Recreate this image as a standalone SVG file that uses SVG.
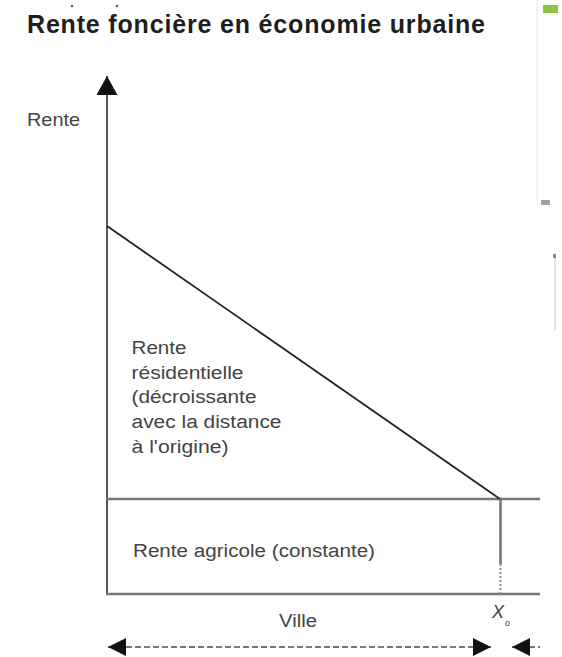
<svg xmlns="http://www.w3.org/2000/svg" width="562" height="657" viewBox="0 0 562 657">
  <style>
    .title { font-family: "Liberation Sans", Arial, sans-serif; font-weight: bold; font-size: 25px; fill: #1e1e1e; }
    .lbl { font-family: "Liberation Sans", Arial, sans-serif; font-size: 18px; fill: #444; }
    .xo { font-family: "Liberation Sans", Arial, sans-serif; font-style: italic; fill: #444; }
    .axis { stroke: #555; stroke-width: 2; fill: none; }
    .hline { stroke: #777; stroke-width: 2.6; fill: none; }
    .diag { stroke: #222; stroke-width: 1.8; fill: none; }
    .dash { stroke: #777; stroke-width: 2; stroke-dasharray: 6 3; fill: none; }
    .dot { stroke: #999; stroke-width: 2.4; stroke-dasharray: 2 2; fill: none; }
  </style>
  <defs>
    <marker id="arrY" markerUnits="userSpaceOnUse" markerWidth="20" markerHeight="21" viewBox="0 0 20 21" refX="19" refY="10.5" orient="auto">
      <path d="M0,0 L19,10.5 L0,21 Z" fill="#111"/>
    </marker>
    <marker id="arr" markerUnits="userSpaceOnUse" markerWidth="18" markerHeight="18" viewBox="0 0 18 18" refX="18" refY="9" orient="auto-start-reverse">
      <path d="M0,0 L18,9 L0,18 Z" fill="#111"/>
    </marker>
  </defs>
  <rect width="562" height="657" fill="#fff"/>

  <!-- screenshot remnants -->
  <g id="artifacts">
    <circle cx="72" cy="6" r="1.2" fill="#555"/>
    <circle cx="117" cy="6" r="1.2" fill="#555"/>
    <line x1="537" y1="0" x2="537" y2="200" stroke="#e8e8e8" stroke-width="1"/>
    <rect x="543" y="5" width="15" height="8" fill="#8cc63e"/>
    <rect x="541" y="200" width="9" height="5" fill="#9aa3ad"/>
    <line x1="555" y1="253" x2="555" y2="330" stroke="#c4c4c4" stroke-width="1"/>
    <rect x="553" y="254" width="3" height="4" fill="#888"/>
  </g>

  <g id="title">
    <text class="title" x="27" y="33" textLength="458" lengthAdjust="spacing">Rente foncière en économie urbaine</text>
  </g>

  <g id="connectors">
    <line class="axis" x1="107" y1="595" x2="107" y2="76" marker-end="url(#arrY)"/>
    <line class="hline" x1="106" y1="594" x2="540" y2="594"/>
    <line class="hline" x1="106" y1="499" x2="540" y2="499"/>
    <line class="diag" x1="107" y1="226" x2="500" y2="499"/>
    <line class="hline" x1="500.5" y1="499" x2="500.5" y2="564"/>
    <line class="dot" x1="500.5" y1="564" x2="500.5" y2="594"/>
    <line class="dash" x1="108" y1="647" x2="491" y2="647" marker-start="url(#arr)" marker-end="url(#arr)"/>
    <line class="dash" x1="512" y1="647" x2="540" y2="647" stroke-dashoffset="1" marker-start="url(#arr)"/>
  </g>

  <g id="axis-label-rente">
    <text class="lbl" x="27" y="126" textLength="53" lengthAdjust="spacingAndGlyphs">Rente</text>
  </g>

  <g id="rente-residentielle">
    <text class="lbl" x="131.5" y="354" textLength="55" lengthAdjust="spacingAndGlyphs">Rente</text>
    <text class="lbl" x="131.5" y="378.5" textLength="112" lengthAdjust="spacingAndGlyphs">résidentielle</text>
    <text class="lbl" x="131.5" y="403" textLength="125" lengthAdjust="spacingAndGlyphs">(décroissante</text>
    <text class="lbl" x="131.5" y="428" textLength="150" lengthAdjust="spacingAndGlyphs">avec la distance</text>
    <text class="lbl" x="131.5" y="453" textLength="97" lengthAdjust="spacingAndGlyphs">à l'origine)</text>
  </g>

  <g id="rente-agricole">
    <text class="lbl" x="133" y="557" textLength="242" lengthAdjust="spacingAndGlyphs">Rente agricole (constante)</text>
  </g>

  <g id="ville">
    <text class="lbl" x="279" y="627" textLength="38" lengthAdjust="spacingAndGlyphs">Ville</text>
  </g>

  <g id="x0">
    <text class="xo" x="492" y="618" font-size="18">X</text>
    <text class="xo" x="505" y="626" font-size="9">o</text>
  </g>
</svg>
